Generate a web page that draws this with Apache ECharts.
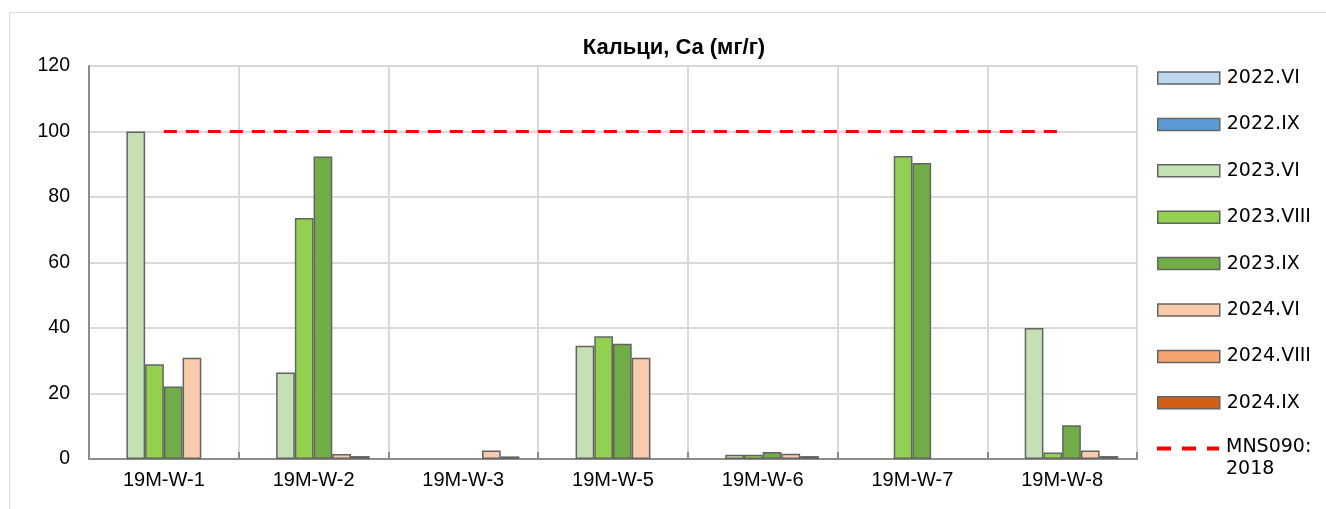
<!DOCTYPE html>
<html>
<head>
<meta charset="utf-8">
<script src="https://cdn.jsdelivr.net/npm/echarts@6/dist/echarts.min.js"></script>
<style>
    html, body { margin: 0; padding: 0; background: #fff; }
    #chart { width: 1326px; height: 509px; }
</style>
</head>
<body>
<div id="chart"></div>
<script>
// 数据
var categories = ['19M-W-1', '19M-W-2', '19M-W-3', '19M-W-5', '19M-W-6', '19M-W-7', '19M-W-8'];
var seriesNames = ['2022.VI', '2022.IX', '2023.VI', '2023.VIII', '2023.IX', '2024.VI', '2024.VIII', '2024.IX'];
var v2022VI = [null, null, null, null, null, null, null];
var v2022IX = [null, null, null, null, null, null, null];
var v2023VI = [100, 26.4, null, 34.6, 1.3, null, 40];
var v2023VIII = [28.9, 73.6, null, 37.5, 1.3, 92.5, 2.0];
var v2023IX = [22.1, 92.4, null, 35.2, 2.1, 90.4, 10.3];
var v2024VI = [30.9, 1.5, 2.6, 30.9, 1.6, null, 2.6];
var v2024VIII = [null, 0.9, 0.8, null, 0.9, null, 0.9];
var v2024IX = [null, null, null, null, null, null, null];
var limitName = 'MNS090:\n2018';
var limitValues = [100, 100, 100, 100, 100, 100, 100];
var yTicks = [0, 20, 40, 60, 80, 100, 120];

var colors = ['#BDD7EE', '#5B9BD5', '#C5E0B4', '#92D050', '#70AD47', '#F8CBAD', '#F4A46E', '#D26014'];
var values = [v2022VI, v2022IX, v2023VI, v2023VIII, v2023IX, v2024VI, v2024VIII, v2024IX];

var chart = echarts.init(document.getElementById('chart'));

var series = [];
for (var i = 0; i < seriesNames.length; i++) {
    series.push({
        name: seriesNames[i],
        type: 'bar',
        data: values[i],
        barGap: '0%',
        barCategoryGap: '0%',
        itemStyle: {
            color: colors[i],
            borderColor: '#646464',
            borderWidth: 1.5
        }
    });
}
// 限值线
series.push({
    name: limitName,
    type: 'line',
    data: limitValues,
    symbol: 'none',
    lineStyle: { color: '#FF0000', width: 3, type: [13, 9] },
    itemStyle: { color: '#FF0000' },
    z: 5
});

// 图例里的虚线图标（上方对齐第一行文字）
var dashIcon = 'path://M0,0 L0,0 M62,30 L62,30 ' +
    'M0,3.5 L14,3.5 L14,7.5 L0,7.5 Z ' +
    'M25,3.5 L39,3.5 L39,7.5 L25,7.5 Z ' +
    'M50,3.5 L62,3.5 L62,7.5 L50,7.5 Z';

var option = {
    animation: false,
    textStyle: { fontFamily: 'Liberation Sans, Arial, sans-serif' },
    graphic: [{
        type: 'rect',
        shape: { x: 9.5, y: 12.5, width: 1330, height: 520 },
        style: { fill: 'none', stroke: '#D9D9D9', lineWidth: 1 },
        silent: true
    }],
    title: {
        text: 'Кальци, Ca (мг/г)',
        left: 669,
        textAlign: 'center',
        top: 32,
        textStyle: { fontSize: 22, fontWeight: 'bold', color: '#000', fontFamily: 'Liberation Sans, Arial, sans-serif' }
    },
    legend: [{
        orient: 'vertical',
        left: 1152,
        top: 62,
        itemWidth: 62,
        itemHeight: 12,
        itemGap: 24.4,
        data: seriesNames.map(function (n) {
            return { name: n, icon: 'rect', itemStyle: { borderColor: '#646464', borderWidth: 1.5 } };
        }),
        textStyle: { fontSize: 19, color: '#000', fontFamily: 'DejaVu Sans', lineHeight: 22, padding: [0, 0, 0, 2] }
    }, {
        orient: 'vertical',
        left: 1152,
        top: 431,
        itemWidth: 62,
        itemHeight: 30,
        symbolKeepAspect: false,
        data: [{ name: limitName, icon: dashIcon, itemStyle: { color: '#FF0000', borderWidth: 0 } }],
        textStyle: { fontSize: 19, color: '#000', fontFamily: 'DejaVu Sans', lineHeight: 22, padding: [0, 0, 0, 2] }
    }],
    grid: { left: 89, right: 189, top: 66, bottom: 50 },
    xAxis: {
        type: 'category',
        data: categories,
        axisLine: { lineStyle: { color: '#8C8C8C', width: 2 } },
        axisTick: { show: true, inside: true, length: 7, interval: 0, lineStyle: { color: '#8C8C8C', width: 2 } },
        splitLine: { show: true, interval: 0, lineStyle: { color: '#D9D9D9', width: 2 } },
        axisLabel: { fontSize: 20, color: '#000', margin: 11 }
    },
    yAxis: {
        type: 'value',
        min: yTicks[0],
        max: yTicks[yTicks.length - 1],
        interval: yTicks[1] - yTicks[0],
        axisLine: { show: true, lineStyle: { color: '#8C8C8C', width: 2 } },
        axisTick: { show: false },
        splitLine: { lineStyle: { color: '#D9D9D9', width: 2 } },
        axisLabel: { fontSize: 19.5, color: '#000', margin: 19 }
    },
    series: series
};
chart.setOption(option);
</script>
</body>
</html>
